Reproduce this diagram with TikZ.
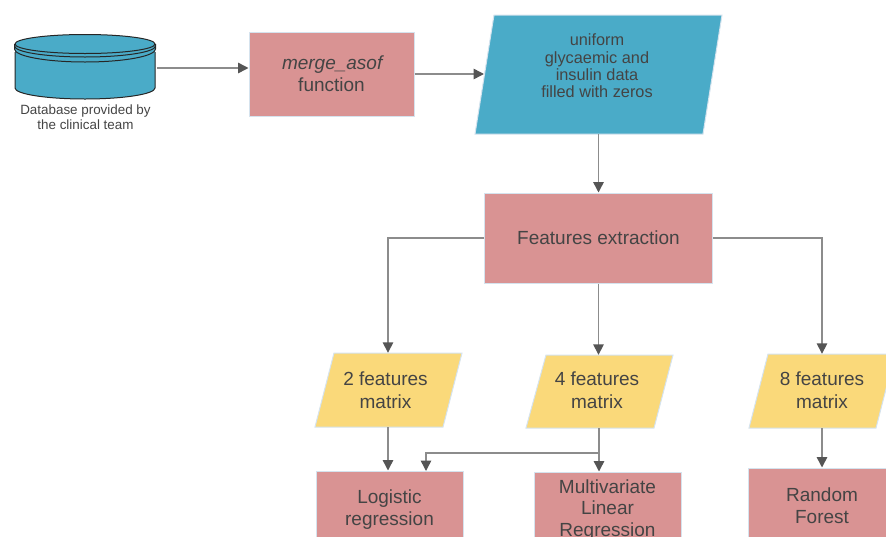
\documentclass[tikz,border=0pt]{standalone}
\usepackage{fontspec}
\setmainfont{Liberation Sans}
\usetikzlibrary{arrows.meta}
\definecolor{redbox}{HTML}{D99393}
\definecolor{yelbox}{HTML}{FAD97A}
\definecolor{bluebox}{HTML}{4AABC8}
\definecolor{edgec}{HTML}{D5E3EE}
\definecolor{linec}{HTML}{8C8C8C}
\definecolor{tipc}{HTML}{555555}
\definecolor{txt}{HTML}{444444}
\tikzset{
  x=1pt,y=-1pt,
  redrect/.style={fill=redbox,draw=edgec,line width=1pt,inner sep=0pt,text=txt,align=center,font=\fontsize{19}{22}\selectfont},
  label text/.style={inner sep=0pt,text=txt,align=center,font=\fontsize{19}{23}\selectfont},
  para/.style={fill=#1,draw=edgec,line width=1pt},
  flow/.style={draw=linec,line width=1.5pt,-{Triangle[length=10.5pt,width=10.5pt,fill=tipc,color=tipc]}},
  dbline/.style={draw=black!85,line width=1pt}
}
\begin{document}
\begin{tikzpicture}
\useasboundingbox (0,0) rectangle (886,536);
\clip (0,0) rectangle (886,536);
% database
\path[fill=bluebox] (15,45) -- (15,88) arc[start angle=180,end angle=0,x radius=70,y radius=11] -- (155,45) -- cycle;
\draw[dbline] (15,52) -- (15,88) arc[start angle=180,end angle=0,x radius=70,y radius=11] -- (155,52);
\draw[dbline] (14.5,44) -- (14.5,49) arc[start angle=180,end angle=0,x radius=70.5,y radius=13] -- (155.5,44);
\draw[dbline] (14.5,46) arc[start angle=180,end angle=0,x radius=70.5,y radius=11];
\draw[dbline,fill=bluebox] (85,44) ellipse[x radius=70,y radius=9.5];
\node[minimum width=140pt,minimum height=65pt,inner sep=0pt] (db) at (85,66.5) {};
\coordinate (dbout) at (157,68);
\node[inner sep=0pt,text=txt,align=center,font=\fontsize{13.4}{15}\selectfont] (dbl) at (85.5,117.5) {Database provided by\\the clinical team};
% merge box
\node[redrect,minimum width=165pt,minimum height=84pt] (merge) at (331.5,74) {\hspace{3pt}\textit{merge\_asof}\\function};
% blue parallelogram
\draw[para=bluebox] (494,15) -- (722,15) -- (703,134) -- (475,134) -- cycle;
\node[inner sep=0pt,minimum width=228pt,minimum height=119pt] (blue) at (598.5,74.5) {};
\coordinate (bluein) at (484,74);
\node[inner sep=0pt,text=txt,align=center,font=\fontsize{16.3}{17.4}\selectfont] (bluet) at (597,66) {uniform\\glycaemic and\\insulin data\\filled with zeros};
% features
\node[redrect,minimum width=228pt,minimum height=90pt] (feat) at (598.5,238) {Features extraction};
% yellow
\draw[para=yelbox] (334,353) -- (462,353) -- (443,427) -- (315,427) -- cycle;
\node[inner sep=0pt,minimum width=128pt,minimum height=74pt] (y2) at (388,390) {};
\node[label text] (y2t) at (385.5,390.5) {2 features\\matrix};
\draw[para=yelbox] (546,355) -- (673,355) -- (654,428) -- (526,428) -- cycle;
\node[inner sep=0pt,minimum width=128pt,minimum height=73pt] (y4) at (599,391.5) {};
\node[label text] (y4t) at (597,390.5) {4 features\\matrix};
\draw[para=yelbox] (768,354) -- (895,354) -- (876,428) -- (749,428) -- cycle;
\node[inner sep=0pt,minimum width=120pt,minimum height=74pt] (y8) at (822,391) {};
\node[label text] (y8t) at (822,390.5) {8 features\\matrix};
% bottom boxes
\node[redrect,minimum width=147pt,minimum height=78pt] (lr) at (389.5,510) {Logistic\\regression};
\node[redrect,font=\fontsize{19}{21.3}\selectfont,minimum width=147pt,minimum height=76pt] (mlr) at (607.5,510) {Multivariate\\Linear\\Regression};
\node[redrect,minimum width=148pt,minimum height=76pt] (rf) at (822,506) {Random\\Forest\hspace{5pt}};
% connectors
\draw[flow] (dbout) -- (dbout -| merge.west);
\draw[flow] (merge.east) -- (bluein);
\draw[flow] (blue.south) -- (blue.south |- feat.north);
\draw[flow] (feat.west) -| (y2.north);
\draw[flow] (feat.south) -- (feat.south |- y4.north);
\draw[flow] (feat.east) -| (y8.north);
\draw[flow] (y2.south) -- (y2.south |- lr.north);
\draw[flow] (y4.south) -- (y4.south |- mlr.north);
\coordinate (lrin) at (426,471);
\coordinate (split) at (599,453);
\draw[flow] (split) -| (lrin);
\draw[flow] (y8.south) -- (y8.south |- rf.north);
\end{tikzpicture}
\end{document}
